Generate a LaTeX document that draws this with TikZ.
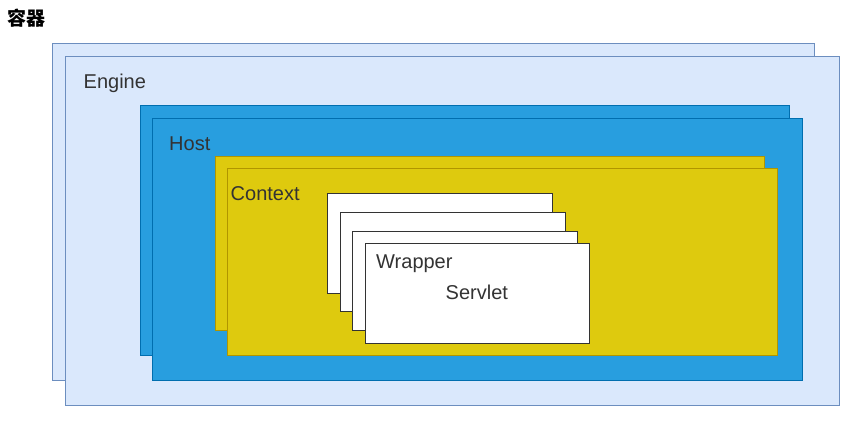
\documentclass[tikz,border=0pt]{standalone}
\usepackage{fontspec}
\setmainfont{Liberation Sans}
\newfontfamily\cjkfont{Noto Sans CJK SC}
\definecolor{engfill}{HTML}{DAE8FC}
\definecolor{engline}{HTML}{6C8EBF}
\definecolor{hostfill}{HTML}{289EDF}
\definecolor{hostline}{HTML}{006EAF}
\definecolor{ctxfill}{HTML}{DECA0E}
\definecolor{ctxline}{HTML}{B09500}
\definecolor{wrapline}{HTML}{333333}
\definecolor{txt}{HTML}{333333}
\tikzset{
  panel/.style={rectangle, inner sep=0pt, outer sep=0pt, line width=1pt, anchor=north west},
  enginebox/.style={panel, fill=engfill, draw=engline},
  hostbox/.style={panel, fill=hostfill, draw=hostline},
  ctxbox/.style={panel, fill=ctxfill, draw=ctxline},
  wrapbox/.style={panel, fill=white, draw=wrapline},
  lbl/.style={anchor=base west, inner sep=0pt, text=txt, font=\fontsize{20}{24}\selectfont},
}
\newcommand{\boxat}[6]{\node[#1, minimum width=#5-#3, minimum height=#6-#4] (#2) at (#3,#4) {};}
\begin{document}
\begin{tikzpicture}[x=1pt,y=-1pt]
\useasboundingbox (0,0) rectangle (864,423);
\node[anchor=west, inner sep=0pt, font=\cjkfont\bfseries\fontsize{19}{22}\selectfont] (title) at (7,18) {容器};
\boxat{enginebox}{engback}{52}{43}{814}{380}
\boxat{enginebox}{engfront}{65}{56}{839}{405}
\boxat{hostbox}{hostback}{140}{105}{789}{355}
\boxat{hostbox}{hostfront}{152}{118}{802}{380}
\boxat{ctxbox}{ctxback}{215}{156}{764}{330}
\boxat{ctxbox}{ctxfront}{227}{168}{777}{355}
\boxat{wrapbox}{w1}{327}{193}{552}{293}
\boxat{wrapbox}{w2}{340}{212}{565}{311}
\boxat{wrapbox}{w3}{352}{231}{577}{330}
\boxat{wrapbox}{w4}{365}{243}{589}{343}
\node[lbl] (engine) at (83.5,88) {Engine};
\node[lbl] (host) at (169,150) {Host};
\node[lbl] (context) at (230.5,200) {Context};
\node[lbl] (wrapper) at (376,268) {Wrapper};
\node[lbl] (servlet) at (445.5,299.5) {Servlet};
\end{tikzpicture}
\end{document}
